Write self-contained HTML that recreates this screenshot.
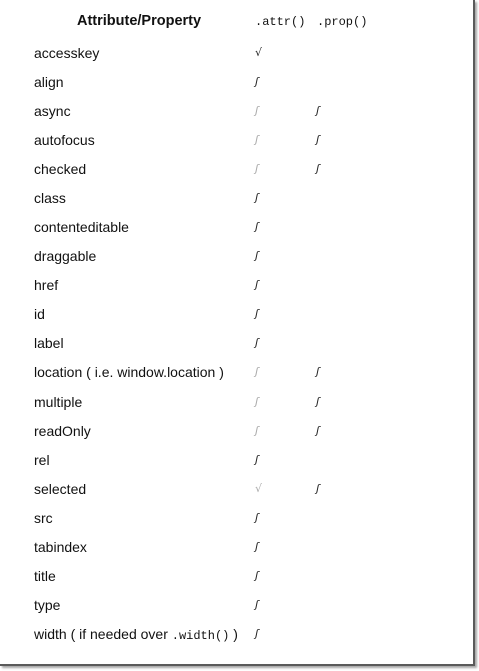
<!DOCTYPE html>
<html><head><meta charset="utf-8"><style>
html,body{margin:0;padding:0;background:#fff;width:479px;height:671px;overflow:hidden}
#box{position:absolute;left:0;top:0;width:473px;height:664px;background:#fff;border-right:2px solid #5a5a5a;border-bottom:2px solid #5a5a5a;box-shadow:2px 2px 2px rgba(0,0,0,.35)}
.t{position:absolute;font-family:"Liberation Sans",sans-serif;font-size:14px;line-height:16px;color:#111;white-space:nowrap}
.m{font-family:"Liberation Mono",monospace;font-size:12px}
.c{position:absolute;font-family:"DejaVu Sans",sans-serif;font-size:11px;line-height:16px;color:#222;font-style:italic}
.g{color:#aaa}
</style></head><body><div id="box"></div>
<div class="t" style="left:77px;top:13px;font-weight:bold;font-size:14.5px">Attribute/Property</div>
<div class="t m" style="left:255px;top:14px">.attr()</div>
<div class="t m" style="left:317px;top:14px">.prop()</div>
<div class="t" style="left:34px;top:45px">accesskey</div><div class="c" style="left:255px;top:45px;font-style:normal">√</div>
<div class="t" style="left:34px;top:74px">align</div><div class="c" style="left:255px;top:74px">ʃ</div>
<div class="t" style="left:34px;top:103px">async</div><div class="c g" style="left:255px;top:103px">ʃ</div><div class="c" style="left:316px;top:103px">ʃ</div>
<div class="t" style="left:34px;top:132px">autofocus</div><div class="c g" style="left:255px;top:132px">ʃ</div><div class="c" style="left:316px;top:132px">ʃ</div>
<div class="t" style="left:34px;top:161px">checked</div><div class="c g" style="left:255px;top:161px">ʃ</div><div class="c" style="left:316px;top:161px">ʃ</div>
<div class="t" style="left:34px;top:190px">class</div><div class="c" style="left:255px;top:190px">ʃ</div>
<div class="t" style="left:34px;top:219px">contenteditable</div><div class="c" style="left:255px;top:219px">ʃ</div>
<div class="t" style="left:34px;top:248px">draggable</div><div class="c" style="left:255px;top:248px">ʃ</div>
<div class="t" style="left:34px;top:277px">href</div><div class="c" style="left:255px;top:277px">ʃ</div>
<div class="t" style="left:34px;top:306px">id</div><div class="c" style="left:255px;top:306px">ʃ</div>
<div class="t" style="left:34px;top:335px">label</div><div class="c" style="left:255px;top:335px">ʃ</div>
<div class="t" style="left:34px;top:364px">location ( i.e. window.location )</div><div class="c g" style="left:255px;top:364px">ʃ</div><div class="c" style="left:316px;top:364px">ʃ</div>
<div class="t" style="left:34px;top:394px">multiple</div><div class="c g" style="left:255px;top:394px">ʃ</div><div class="c" style="left:316px;top:394px">ʃ</div>
<div class="t" style="left:34px;top:423px">readOnly</div><div class="c g" style="left:255px;top:423px">ʃ</div><div class="c" style="left:316px;top:423px">ʃ</div>
<div class="t" style="left:34px;top:452px">rel</div><div class="c" style="left:255px;top:452px">ʃ</div>
<div class="t" style="left:34px;top:481px">selected</div><div class="c g" style="left:255px;top:481px;font-style:normal">√</div><div class="c" style="left:316px;top:481px">ʃ</div>
<div class="t" style="left:34px;top:510px">src</div><div class="c" style="left:255px;top:510px">ʃ</div>
<div class="t" style="left:34px;top:539px">tabindex</div><div class="c" style="left:255px;top:539px">ʃ</div>
<div class="t" style="left:34px;top:568px">title</div><div class="c" style="left:255px;top:568px">ʃ</div>
<div class="t" style="left:34px;top:597px">type</div><div class="c" style="left:255px;top:597px">ʃ</div>
<div class="t" style="left:34px;top:626px">width ( if needed over <span class="m">.width()</span> )</div><div class="c" style="left:255px;top:626px">ʃ</div>
</body></html>
